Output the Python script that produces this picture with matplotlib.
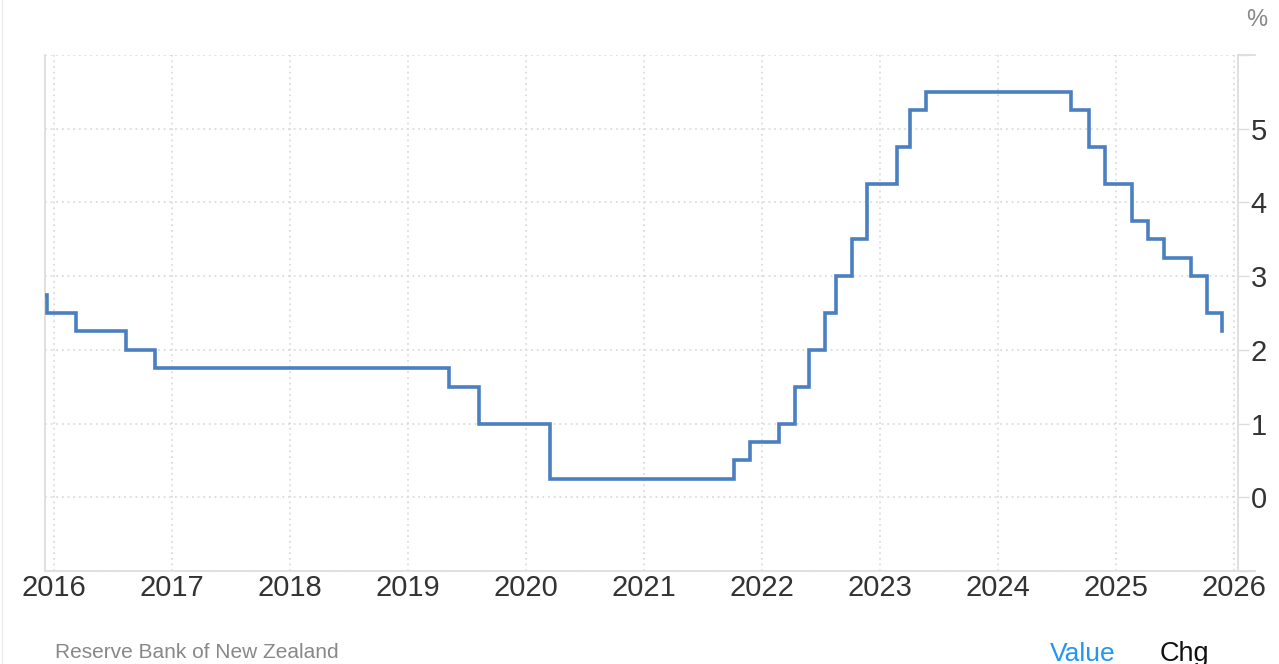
import matplotlib
matplotlib.use("Agg")
import matplotlib.pyplot as plt
import matplotlib.dates as mdates
from matplotlib.lines import Line2D
import datetime as dt

plt.rcParams['font.family'] = ['Liberation Sans', 'DejaVu Sans']

# RBNZ official cash rate decisions (date, rate %)
dates = ["2015-12-08", "2015-12-10", "2016-03-10", "2016-08-11", "2016-11-10",
         "2019-05-08", "2019-08-07", "2020-03-16", "2021-10-06", "2021-11-24",
         "2022-02-23", "2022-04-13", "2022-05-25", "2022-07-13", "2022-08-17",
         "2022-10-05", "2022-11-23", "2023-02-22", "2023-04-05", "2023-05-24",
         "2024-08-14", "2024-10-09", "2024-11-27", "2025-02-19", "2025-04-09",
         "2025-05-28", "2025-08-20", "2025-10-08", "2025-11-26"]
rates = [2.75, 2.50, 2.25, 2.00, 1.75,
         1.50, 1.00, 0.25, 0.50, 0.75,
         1.00, 1.50, 2.00, 2.50, 3.00,
         3.50, 4.25, 4.75, 5.25, 5.50,
         5.25, 4.75, 4.25, 3.75, 3.50,
         3.25, 3.00, 2.50, 2.25]
year_ticks = list(range(2016, 2027))
y_ticks = [0, 1, 2, 3, 4, 5]

x = [dt.datetime.strptime(d, "%Y-%m-%d") for d in dates]

fig = plt.figure(figsize=(12.79, 6.64), dpi=100)
ax = fig.add_axes([45/1279, 1 - 571/664, (1238 - 45)/1279, (571 - 55)/664])

ax.plot(x, rates, drawstyle='steps-post', color='#4a7fc1', lw=2.6,
        solid_joinstyle='miter', zorder=3)

ax.set_xlim(dt.datetime(2015, 12, 4), dt.datetime(2026, 1, 13))
ax.set_ylim(-1, 6)

ax.set_xticks([dt.datetime(y, 1, 1) for y in year_ticks])
ax.xaxis.set_major_formatter(mdates.DateFormatter('%Y'))
ax.set_yticks(list(range(-1, 7)))
ax.set_yticklabels([str(v) if v in y_ticks else '' for v in range(-1, 7)])

ax.yaxis.tick_right()
ax.tick_params(axis='y', length=8, width=1, color='#dddddd', pad=1,
               labelsize=21, labelcolor='#333333')
ax.tick_params(axis='x', length=0, pad=2, labelsize=21, labelcolor='#333333')

ax.grid(True, linestyle=(0, (1.2, 2.5)), color='#d6d6d6', lw=1.1)
ax.spines['top'].set_visible(False)
for s in ['left', 'right', 'bottom']:
    ax.spines[s].set_color('#dddddd')
    ax.spines[s].set_linewidth(1.3)

# extend top and bottom lines past the right spine
for yy in (0, 1):
    ax.add_line(Line2D([1, 1.014], [yy, yy], transform=ax.transAxes,
                       color='#dddddd', lw=1.3, clip_on=False))

fig.text(1257/1279, 1 - 20/664, '%', fontsize=17, color='#888888',
         ha='center', va='center')
fig.text(55/1279, 1 - 653/664, 'Reserve Bank of New Zealand', fontsize=15,
         color='#888888', ha='left', va='center')
fig.text(1050/1279, 1 - 654/664, 'Value', fontsize=19, color='#2196f3',
         ha='left', va='center')
fig.text(1160/1279, 1 - 654/664, 'Chg', fontsize=19.5, color='#111111',
         ha='left', va='center')

fig.add_artist(Line2D([1.5/1279, 1.5/1279], [0, 1], color='#eeeeee', lw=1))

fig.savefig('out.png', dpi=100, facecolor='white')
